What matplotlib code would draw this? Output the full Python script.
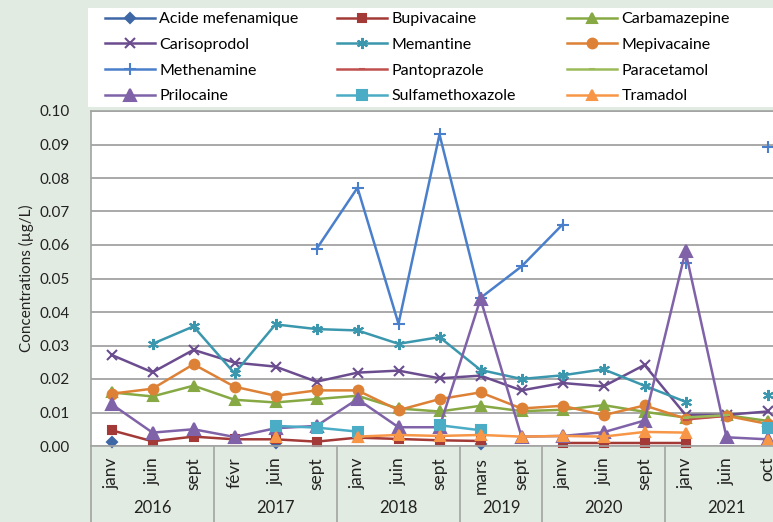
import numpy as np
import matplotlib
matplotlib.use("Agg")
import matplotlib.pyplot as plt
from matplotlib.lines import Line2D
from matplotlib.patches import Rectangle
import matplotlib.transforms as mtransforms

plt.rcParams['font.family'] = ['Lato', 'DejaVu Sans']

# x categories (two-level axis: month / year)
months = ["janv", "juin", "sept", "févr", "juin", "sept", "janv", "juin", "sept",
          "mars", "sept", "janv", "juin", "sept", "janv", "juin", "oct"]
years = ["2016", "2017", "2018", "2019", "2020", "2021"]
year_sizes = [3, 3, 3, 2, 3, 3]

# concentrations in µg/L, None = not measured / not detected
acide_mefenamique = [0.0013, None, None, None, 0.0008, None, None, None, None,
                     0.0005, None, None, None, None, None, None, None]
bupivacaine = [0.0047, 0.0014, 0.0028, 0.0020, 0.0020, 0.0013, 0.0025, 0.0021, 0.0017,
               0.0015, None, 0.0009, 0.0009, 0.0009, 0.0009, None, None]
carbamazepine = [0.0160, 0.0148, 0.0180, 0.0138, 0.0130, 0.0140, 0.0150, 0.0112, 0.0103,
                 0.0120, 0.0104, 0.0108, 0.0122, 0.0102, 0.0085, 0.0092, 0.0075]
carisoprodol = [0.0272, 0.0220, 0.0287, 0.0249, 0.0237, 0.0192, 0.0219, 0.0225, 0.0202,
                0.0210, 0.0166, 0.0188, 0.0178, 0.0242, 0.0093, 0.0093, 0.0103]
memantine = [None, 0.0305, 0.0357, 0.0217, 0.0363, 0.0349, 0.0345, 0.0305, 0.0325,
             0.0227, 0.0200, 0.0211, 0.0229, 0.0180, 0.0132, None, 0.0152]
mepivacaine = [0.0156, 0.0171, 0.0244, 0.0177, 0.0150, 0.0166, 0.0166, 0.0107, 0.0140,
               0.0160, 0.0112, 0.0120, 0.0092, 0.0121, 0.0082, 0.0090, 0.0066]
methenamine = [None, None, None, None, None, 0.0588, 0.0771, 0.0365, 0.0930,
               0.0442, 0.0536, 0.0661, None, None, 0.0545, None, 0.0892]
pantoprazole = [None, None, None, None, None, None, None, None, None,
                None, None, None, None, None, 0.0079, 0.0090, None]
paracetamol = [None, None, None, None, None, None, None, None, None,
               None, None, None, None, None, 0.0085, 0.0092, None]
prilocaine = [0.0125, 0.0040, 0.0050, 0.0027, 0.0053, 0.0060, 0.0140, 0.0056, 0.0056,
              0.0439, 0.0028, 0.0030, 0.0041, 0.0076, 0.0581, 0.0026, 0.0020]
sulfamethoxazole = [None, None, None, None, 0.0060, 0.0055, 0.0043, None, 0.0062,
                    0.0047, None, None, None, None, None, None, 0.0053]
tramadol = [None, None, None, None, 0.0027, None, 0.0028, 0.0033, 0.0030,
            0.0033, 0.0028, 0.0030, 0.0028, 0.0042, 0.0040, None, 0.0018]

series = [
    ("Acide mefenamique", acide_mefenamique, "#3e67a6", "D", 5.5),
    ("Bupivacaine", bupivacaine, "#a33a37", "s", 6),
    ("Carbamazepine", carbamazepine, "#86a944", "^", 7),
    ("Carisoprodol", carisoprodol, "#6b4d8f", "x", 7),
    ("Memantine", memantine, "#3a97ad", (6, 2, 0), 8),
    ("Mepivacaine", mepivacaine, "#dd8136", "o", 7),
    ("Methenamine", methenamine, "#4a7fcb", "+", 9),
    ("Pantoprazole", pantoprazole, "#c0504d", "_", 5),
    ("Paracetamol", paracetamol, "#9bbb59", "_", 5),
    ("Prilocaine", prilocaine, "#7f62a8", "^", 8),
    ("Sulfamethoxazole", sulfamethoxazole, "#4bacc6", "s", 6.5),
    ("Tramadol", tramadol, "#f79646", "^", 7),
]

W, H = 773, 522
fig = plt.figure(figsize=(W / 100, H / 100), dpi=100, facecolor="#e2ebe2")
ax = fig.add_axes([91 / W, (H - 446) / H, (788 - 91) / W, (446 - 111) / H])

x = np.arange(len(months))
handles = []
for name, vals, color, marker, ms in series:
    y = np.array(vals, dtype=float)
    line, = ax.plot(x, y, color=color, lw=1.8, marker=marker, ms=ms,
                    mew=1.5, mec=color, mfc=color, label=name, clip_on=False)
    handles.append(line)

ax.set_xlim(-0.5, len(months) - 0.5)
ax.set_ylim(0, 0.10)
ax.set_yticks(np.arange(0, 0.1001, 0.01))
ax.set_yticklabels([f"{v:.2f}" for v in np.arange(0, 0.1001, 0.01)])
ax.set_xticks(x)
ax.set_xticklabels(months, rotation=90)
ax.tick_params(axis="y", length=0, pad=15, labelsize=11, colors="#222222")
ax.tick_params(axis="x", length=0, pad=8, labelsize=12.5, colors="#222222")
ax.grid(axis="y", color="#a3a3a3", lw=1.3)
ax.set_axisbelow(True)
for side in ["left", "bottom", "top"]:
    ax.spines[side].set_color("#a3a3a3")
    ax.spines[side].set_linewidth(1.2)
ax.spines["right"].set_visible(False)
ax.set_ylabel("Concentrations (µg/L)", fontsize=11, color="#222222", labelpad=4)

# year groups under the month labels
trans = mtransforms.blended_transform_factory(ax.transData, ax.transAxes)
drop = -(522 - 446) / (446 - 111)
start = 0
bounds = [-0.5]
for yr, n in zip(years, year_sizes):
    center = start + (n - 1) / 2
    ax.text(center, -(508 - 446) / (446 - 111), yr, transform=trans,
            ha="center", va="center", fontsize=12, color="#222222")
    start += n
    bounds.append(start - 0.5)
for b in bounds:
    ax.add_line(Line2D([b, b], [0, drop], transform=trans, color="#a3a3a3",
                       lw=1.2, clip_on=False))

# legend: white box with three columns, filled row by row
fig.patches.append(Rectangle((88 / W, (H - 107) / H), 1.0, 99 / H,
                             transform=fig.transFigure, facecolor="white",
                             edgecolor="none", zorder=0))
col_x = [105, 337, 567]
for c in range(3):
    hs = handles[c::3]
    fig.legend(hs, [h.get_label() for h in hs], loc="upper left",
               bbox_to_anchor=(col_x[c] / W, 1 - 12 / H), frameon=False,
               fontsize=11.5, handlelength=3.1, handletextpad=0.3,
               labelspacing=0.72, borderpad=0, borderaxespad=0)

fig.savefig("out.png", dpi=100, facecolor=fig.get_facecolor())
